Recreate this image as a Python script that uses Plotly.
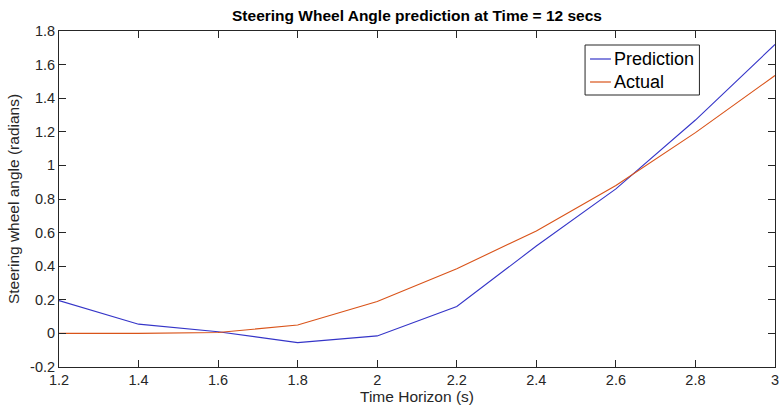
import plotly.graph_objects as go

# Time horizon samples (s)
time_horizon = [1.2, 1.4, 1.6, 1.8, 2.0, 2.2, 2.4, 2.6, 2.8, 3.0]

# Steering wheel angle (radians)
prediction = [0.195, 0.055, 0.01, -0.055, -0.015, 0.16, 0.52, 0.86, 1.27, 1.72]
actual = [0.0, 0.0, 0.005, 0.05, 0.19, 0.385, 0.61, 0.88, 1.195, 1.535]

x_ticks = [1.2, 1.4, 1.6, 1.8, 2.0, 2.2, 2.4, 2.6, 2.8, 3.0]
x_tick_text = ["1.2", "1.4", "1.6", "1.8", "2", "2.2", "2.4", "2.6", "2.8", "3"]
y_ticks = [-0.2, 0, 0.2, 0.4, 0.6, 0.8, 1.0, 1.2, 1.4, 1.6, 1.8]
y_tick_text = ["-0.2", "0", "0.2", "0.4", "0.6", "0.8", "1", "1.2", "1.4", "1.6", "1.8"]

series_names = ["Prediction", "Actual"]
series_colors = ["#3535c8", "#D95319"]

axis_color = "#262626"
font_family = "Liberation Sans, Arial, sans-serif"

# Plot-area geometry in pixels (used to place the boxed legend)
W, H = 779, 414
ML, MR, MT, MB = 59, 0, 31, 47
PW, PH = W - ML - MR, H - MT - MB


def px_x(px):
    return (px - ML) / PW


def px_y(py):
    return (H - MB - py) / PH


fig = go.Figure()
for name, ys, color in zip(series_names, [prediction, actual], series_colors):
    fig.add_trace(go.Scatter(x=time_horizon, y=ys, mode="lines", name=name,
                             line=dict(color=color, width=1.1), showlegend=False))

axis_common = dict(
    showgrid=False, zeroline=False, showline=True, linecolor=axis_color, linewidth=1,
    mirror="ticks", ticks="inside", ticklen=7, tickcolor=axis_color, tickwidth=1,
    ticklabeloverflow="allow",
    tickfont=dict(family=font_family, size=14.5, color=axis_color),
)

# Boxed legend with short line samples
legend_box = (588, 45, 703, 95)
shapes = [dict(type="rect", xref="paper", yref="paper",
               x0=px_x(legend_box[0]), x1=px_x(legend_box[2]),
               y0=px_y(legend_box[3]), y1=px_y(legend_box[1]),
               line=dict(color=axis_color, width=1), fillcolor="white", layer="above")]
annotations = []
row_y = [59, 82]
for name, color, ry in zip(series_names, series_colors, row_y):
    shapes.append(dict(type="line", xref="paper", yref="paper",
                       x0=px_x(593), x1=px_x(614), y0=px_y(ry), y1=px_y(ry),
                       line=dict(color=color, width=1.2), layer="above"))
    annotations.append(dict(text=name, xref="paper", yref="paper",
                            x=px_x(615), y=px_y(ry), xanchor="left", yanchor="middle",
                            showarrow=False,
                            font=dict(family=font_family, size=18, color="black")))

fig.update_layout(
    width=W, height=H,
    margin=dict(l=ML, r=MR, t=MT, b=MB),
    paper_bgcolor="white", plot_bgcolor="white",
    title=dict(text="<b>Steering Wheel Angle prediction at Time = 12 secs</b>",
               x=0.5, xref="paper", xanchor="center", y=1 - 16 / H, yanchor="middle",
               font=dict(family=font_family, size=15.5, color="black")),
    xaxis=dict(range=[1.2, 3.0], tickvals=x_ticks, ticktext=x_tick_text,
               title=dict(text="Time Horizon (s)", standoff=3,
                          font=dict(family=font_family, size=15.5, color=axis_color)),
               **axis_common),
    yaxis=dict(range=[-0.2, 1.8], tickvals=y_ticks, ticktext=y_tick_text,
               title=dict(text="Steering wheel angle (radians)", standoff=6,
                          font=dict(family=font_family, size=15.5, color=axis_color)),
               **axis_common),
    shapes=shapes,
    annotations=annotations,
    showlegend=False,
)

fig.write_html("out.html")
